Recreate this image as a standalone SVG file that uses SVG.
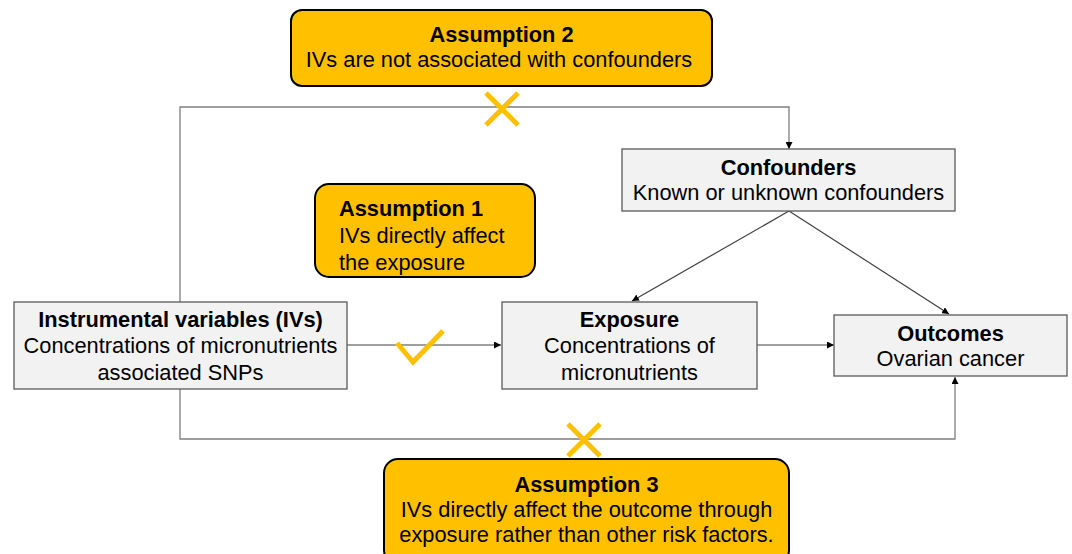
<svg xmlns="http://www.w3.org/2000/svg" width="1072" height="554" viewBox="0 0 1072 554">
<style>
text{font-family:"Liberation Sans",Arial,sans-serif;font-size:21.8px;fill:#000}
.b{font-weight:bold}
.c{text-anchor:middle}
.node{fill:#F2F2F2;stroke:#595959;stroke-width:1.3}
.asm{fill:#FFC000;stroke:#000;stroke-width:2}
.ln{fill:none;stroke:#7F7F7F;stroke-width:1.3}
.dl{fill:none;stroke:#404040;stroke-width:1.2}
.mk{fill:none;stroke:#FFC000;stroke-width:5}
</style>
<defs>
<marker id="ah" viewBox="0 0 10 10" refX="10" refY="5" markerWidth="7" markerHeight="7" markerUnits="userSpaceOnUse" orient="auto">
<path d="M0,0 L10,5 L0,10 z" fill="#000"/>
</marker>
</defs>
<rect width="1072" height="554" fill="#fff"/>
<g id="connectors">
<path class="ln" d="M180,302 V107 H789 V149" marker-end="url(#ah)"/>
<path class="ln" d="M180,389 V439 H955 V377" marker-end="url(#ah)"/>
<path class="ln" d="M347,345 H501" marker-end="url(#ah)"/>
<path class="ln" d="M757,345 H834" marker-end="url(#ah)"/>
<path class="dl" d="M789,211 L632,301" marker-end="url(#ah)"/>
<path class="dl" d="M789,211 L949,314" marker-end="url(#ah)"/>
</g>
<g id="marks">
<path class="mk" d="M486,93 L518,125 M518,93 L486,125"/>
<path class="mk" d="M568,424 L600,456 M600,424 L568,456"/>
<path class="mk" d="M397,343 L413,362 L443,331"/>
</g>
<g id="assumption2">
<rect class="asm" x="291" y="10" width="421" height="76" rx="11"/>
<text class="b c" x="501.5" y="42">Assumption 2</text>
<text class="c" x="499" y="67">IVs are not associated with confounders</text>
</g>
<g id="assumption1">
<rect class="asm" x="315" y="184" width="220" height="93" rx="14"/>
<text class="b" x="339" y="216">Assumption 1</text>
<text x="339" y="243">IVs directly affect</text>
<text x="339" y="270">the exposure</text>
</g>
<g id="assumption3">
<rect class="asm" x="384" y="459" width="405" height="105" rx="14"/>
<text class="b c" x="586.5" y="492">Assumption 3</text>
<text class="c" x="586.5" y="517">IVs directly affect the outcome through</text>
<text class="c" x="586.5" y="542">exposure rather than other risk factors.</text>
</g>
<g id="confounders">
<rect class="node" x="622" y="149" width="333" height="62"/>
<text class="b c" x="788.5" y="175">Confounders</text>
<text class="c" x="788.5" y="200">Known or unknown confounders</text>
</g>
<g id="ivs">
<rect class="node" x="14" y="302" width="333" height="87"/>
<text class="b c" x="180.5" y="327">Instrumental variables (IVs)</text>
<text class="c" x="180.5" y="353">Concentrations of micronutrients</text>
<text class="c" x="180.5" y="380">associated SNPs</text>
</g>
<g id="exposure">
<rect class="node" x="502" y="302" width="255" height="87"/>
<text class="b c" x="629.5" y="327">Exposure</text>
<text class="c" x="629.5" y="353">Concentrations of</text>
<text class="c" x="629.5" y="380">micronutrients</text>
</g>
<g id="outcomes">
<rect class="node" x="834" y="315" width="233" height="61"/>
<text class="b c" x="950.5" y="341">Outcomes</text>
<text class="c" x="950.5" y="366">Ovarian cancer</text>
</g>
</svg>
